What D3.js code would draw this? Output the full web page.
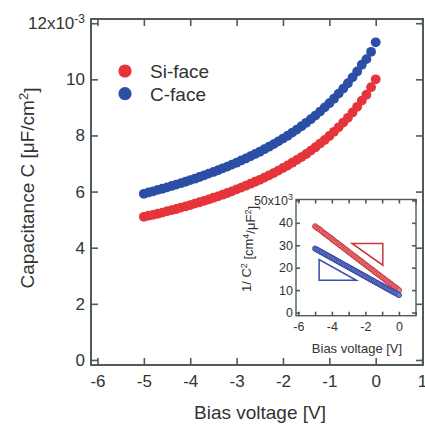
<!DOCTYPE html>
<html>
<head>
<meta charset="utf-8">
<script src="https://cdn.jsdelivr.net/npm/d3@7"></script>
<style>
  body { margin: 0; background: #fff; }
  text { font-family: "Liberation Sans", Arial, sans-serif; fill: #333; }
</style>
</head>
<body>
<script>
"use strict";

// bias voltage [V]
var voltage = [-5.0, -4.9, -4.8, -4.7, -4.6, -4.5, -4.4, -4.3, -4.2, -4.1,
               -4.0, -3.9, -3.8, -3.7, -3.6, -3.5, -3.4, -3.3, -3.2, -3.1,
               -3.0, -2.9, -2.8, -2.7, -2.6, -2.5, -2.4, -2.3, -2.2, -2.1,
               -2.0, -1.9, -1.8, -1.7, -1.6, -1.5, -1.4, -1.3, -1.2, -1.1,
               -1.0, -0.9, -0.8, -0.7, -0.6, -0.5, -0.4, -0.3, -0.2, -0.1, 0.0];

// capacitance, x10^-3 uF/cm2
var siFace = [5.10, 5.14, 5.17, 5.21, 5.25, 5.30, 5.34, 5.38, 5.43, 5.47,
              5.52, 5.57, 5.62, 5.67, 5.72, 5.78, 5.83, 5.89, 5.95, 6.01,
              6.08, 6.14, 6.21, 6.28, 6.35, 6.42, 6.50, 6.58, 6.66, 6.75,
              6.84, 6.93, 7.03, 7.13, 7.23, 7.34, 7.46, 7.58, 7.71, 7.84,
              7.98, 8.13, 8.29, 8.46, 8.63, 8.82, 9.02, 9.24, 9.45, 9.72, 10.0];

var cFace = [5.92, 5.97, 6.01, 6.06, 6.10, 6.15, 6.20, 6.25, 6.30, 6.35,
             6.41, 6.46, 6.52, 6.58, 6.64, 6.70, 6.76, 6.83, 6.89, 6.96,
             7.03, 7.11, 7.18, 7.26, 7.34, 7.42, 7.51, 7.60, 7.69, 7.79,
             7.89, 7.99, 8.10, 8.21, 8.33, 8.45, 8.58, 8.71, 8.85, 9.00,
             9.15, 9.31, 9.49, 9.67, 9.86, 10.07, 10.28, 10.52, 10.72, 10.98, 11.32];

var seriesNames = ["Si-face", "C-face"];
var seriesColors = ["#e6343b", "#2b4ea6"];
var insetFill = ["#e77a7d", "#6d80c4"];
var insetStroke = ["#c9373d", "#2f41a0"];

var xTicks = [-6, -5, -4, -3, -2, -1, 0, 1];
var yTicks = [0, 2, 4, 6, 8, 10, 12];
var insetXTicks = [-6, -4, -2, 0];
var insetXMinor = [-6, -5, -4, -3, -2, -1, 0, 1];
var insetYTicks = [0, 10, 20, 30, 40, 50];

// slope triangles in inset (V, x10^3)
var redTriangle = [[-2.8, 30.8], [-0.96, 30.8], [-0.96, 21.1]];
var blueTriangle = [[-4.76, 23.6], [-4.76, 14.4], [-2.54, 14.4]];

var width = 425, height = 425;
var axisColor = "#4e5a5d";

// plain hyphen for negatives, like the original figure
function plain(d) { return String(d); }

var svg = d3.select("body").append("svg")
    .attr("width", width)
    .attr("height", height);

var x = d3.scaleLinear().domain([-6.14, 1.02]).range([91, 423]);
var y = d3.scaleLinear().domain([-0.18, 12.15]).range([365, 19]);

function styleAxis(g, fontSize) {
  g.select(".domain").remove();
  g.selectAll("line").attr("stroke", axisColor).attr("stroke-width", 1.6);
  g.selectAll("text").style("font-size", fontSize + "px").attr("fill", "#333");
}

// main axes
svg.append("g")
    .attr("transform", "translate(0," + y.range()[0] + ")")
    .call(d3.axisBottom(x).tickValues(xTicks).tickSize(-7).tickPadding(10).tickFormat(plain))
    .call(styleAxis, 17);

svg.append("g")
    .attr("transform", "translate(0," + y.range()[1] + ")")
    .call(d3.axisTop(x).tickValues(xTicks).tickSize(-7).tickFormat(""))
    .call(styleAxis, 17);

var yAxis = svg.append("g")
    .attr("transform", "translate(" + x.range()[0] + ",0)")
    .call(d3.axisLeft(y).tickValues(yTicks).tickSize(-7).tickPadding(6)
      .tickFormat(function(d) { return d === 12 ? "12x10" : plain(d); }))
    .call(styleAxis, 17);

yAxis.selectAll("text").filter(function(d) { return d === 12; })
    .append("tspan").attr("dy", "-0.55em").style("font-size", "12px").text("-3");

svg.append("g")
    .attr("transform", "translate(" + x.range()[1] + ",0)")
    .call(d3.axisRight(y).tickValues(yTicks).tickSize(-7).tickFormat(""))
    .call(styleAxis, 17);

svg.append("rect")
    .attr("x", x.range()[0]).attr("y", y.range()[1])
    .attr("width", x.range()[1] - x.range()[0])
    .attr("height", y.range()[0] - y.range()[1])
    .attr("fill", "none").attr("stroke", axisColor).attr("stroke-width", 2);

// axis titles
svg.append("text")
    .attr("x", 260).attr("y", 419)
    .attr("text-anchor", "middle")
    .style("font-size", "19px")
    .text("Bias voltage [V]");

var yTitle = svg.append("text")
    .attr("transform", "translate(34,188) rotate(-90)")
    .attr("text-anchor", "middle")
    .style("font-size", "19px");
yTitle.append("tspan").text("Capacitance C [\u03bcF/cm");
yTitle.append("tspan").attr("dy", "-0.5em").style("font-size", "13px").text("2");
yTitle.append("tspan").attr("dy", "0.5em").text("]");

// main series
var series = [cFace, siFace];
var seriesIdx = [1, 0];
series.forEach(function(vals, k) {
  var i = seriesIdx[k];
  svg.append("g").selectAll("circle")
      .data(voltage)
      .enter()
        .append("circle")
        .attr("cx", function(d) { return x(d); })
        .attr("cy", function(d, j) { return y(vals[j]); })
        .attr("r", 4.9)
        .attr("fill", seriesColors[i]);
});

// legend
var legend = svg.append("g");
seriesNames.forEach(function(name, i) {
  legend.append("circle")
      .attr("cx", 125).attr("cy", 71 + i * 22.7)
      .attr("r", 6.6)
      .attr("fill", seriesColors[i]);
  legend.append("text")
      .attr("x", 150).attr("y", 78 + i * 22.7)
      .style("font-size", "19px")
      .text(name);
});

// inset
var ix = d3.scaleLinear().domain([-6.14, 1.02]).range([296, 416]);
var iy = d3.scaleLinear().domain([-1.4, 50.4]).range([315.7, 199.5]);

var inset = svg.append("g");

inset.append("rect")
    .attr("x", ix.range()[0]).attr("y", iy.range()[1])
    .attr("width", ix.range()[1] - ix.range()[0])
    .attr("height", iy.range()[0] - iy.range()[1])
    .attr("fill", "#fff");

inset.append("g")
    .attr("transform", "translate(0," + iy.range()[0] + ")")
    .call(d3.axisBottom(ix).tickValues(insetXMinor).tickSize(-4).tickFormat(""))
    .call(styleAxis, 12);
inset.append("g")
    .attr("transform", "translate(0," + iy.range()[0] + ")")
    .call(d3.axisBottom(ix).tickValues(insetXTicks).tickSize(0).tickPadding(6).tickFormat(plain))
    .call(styleAxis, 12.5);
inset.append("g")
    .attr("transform", "translate(0," + iy.range()[1] + ")")
    .call(d3.axisTop(ix).tickValues(insetXMinor).tickSize(-4).tickFormat(""))
    .call(styleAxis, 12);

var iyAxis = inset.append("g")
    .attr("transform", "translate(" + ix.range()[0] + ",0)")
    .call(d3.axisLeft(iy).tickValues(insetYTicks).tickSize(-4).tickPadding(3)
      .tickFormat(function(d) { return d === 50 ? "50x10" : plain(d); }))
    .call(styleAxis, 12.5);
iyAxis.selectAll("text").filter(function(d) { return d === 50; })
    .append("tspan").attr("dy", "-0.5em").style("font-size", "9px").text("3");

inset.append("g")
    .attr("transform", "translate(" + ix.range()[1] + ",0)")
    .call(d3.axisRight(iy).tickValues(insetYTicks).tickSize(-4).tickFormat(""))
    .call(styleAxis, 12);

inset.append("rect")
    .attr("x", ix.range()[0]).attr("y", iy.range()[1])
    .attr("width", ix.range()[1] - ix.range()[0])
    .attr("height", iy.range()[0] - iy.range()[1])
    .attr("fill", "none").attr("stroke", axisColor).attr("stroke-width", 1.4);

inset.append("text")
    .attr("x", 357).attr("y", 353)
    .attr("text-anchor", "middle")
    .style("font-size", "13px")
    .text("Bias voltage [V]");

var iyTitle = inset.append("text")
    .attr("transform", "translate(251,249) rotate(-90)")
    .attr("text-anchor", "middle")
    .style("font-size", "13px");
iyTitle.append("tspan").text("1/ C");
iyTitle.append("tspan").attr("dy", "-0.5em").style("font-size", "9px").text("2");
iyTitle.append("tspan").attr("dy", "0.5em").text(" [cm");
iyTitle.append("tspan").attr("dy", "-0.5em").style("font-size", "9px").text("4");
iyTitle.append("tspan").attr("dy", "0.5em").text("/\u03bcF");
iyTitle.append("tspan").attr("dy", "-0.5em").style("font-size", "9px").text("2");
iyTitle.append("tspan").attr("dy", "0.5em").text("]");

// 1/C^2 points, x10^3 cm4/uF2
[siFace, cFace].forEach(function(vals, i) {
  inset.append("g").selectAll("circle")
      .data(voltage)
      .enter()
        .append("circle")
        .attr("cx", function(d) { return ix(d); })
        .attr("cy", function(d, j) { return iy(1000 / (vals[j] * vals[j])); })
        .attr("r", 2.6)
        .attr("fill", insetFill[i])
        .attr("stroke", insetStroke[i])
        .attr("stroke-width", 0.9);
});

var triLine = d3.line()
    .x(function(d) { return ix(d[0]); })
    .y(function(d) { return iy(d[1]); })
    .curve(d3.curveLinearClosed);

inset.append("path").attr("d", triLine(redTriangle))
    .attr("fill", "none").attr("stroke", "#c9373d").attr("stroke-width", 1.5);
inset.append("path").attr("d", triLine(blueTriangle))
    .attr("fill", "none").attr("stroke", "#3a4cb0").attr("stroke-width", 1.5);
</script>
</body>
</html>
